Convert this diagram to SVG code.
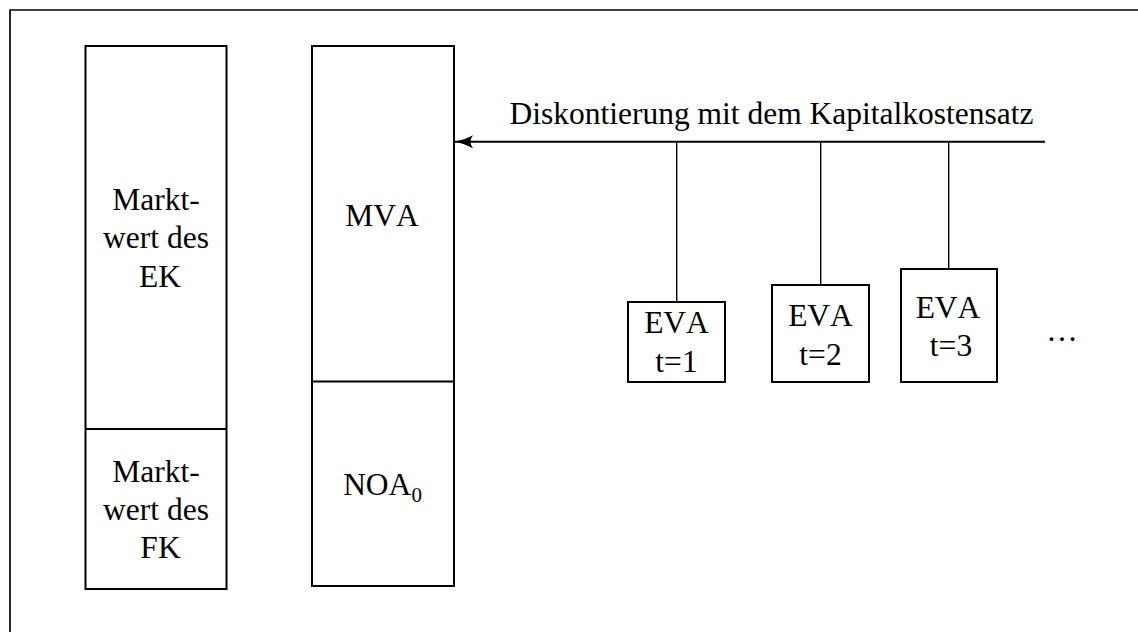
<svg xmlns="http://www.w3.org/2000/svg" width="1138" height="632" viewBox="0 0 1138 632">
<style>
.box{fill:none;stroke:#000;stroke-width:2}
.t{font-family:"Liberation Serif","Times New Roman",serif;font-size:31.5px;fill:#000;text-anchor:middle;font-kerning:none}
.conn{stroke:#000;stroke-width:1.4;fill:none}
.main{stroke:#000;stroke-width:2;fill:none}
</style>
<defs>
<marker id="arr" markerUnits="userSpaceOnUse" markerWidth="22" markerHeight="16" refX="20" refY="8" orient="auto">
<path d="M20,8 Q11,6.5 2,1.5 Q7,8 2,14.5 Q11,9.5 20,8 Z" fill="#000"/>
</marker>
</defs>
<rect width="1138" height="632" fill="#fff"/>
<g id="frame">
<path d="M10,632 V10 H1138" class="main" style="stroke-width:1.7"/>
</g>
<g id="ek-fk">
<rect x="85.5" y="46" width="141" height="543" class="box"/>
<line x1="85.5" y1="429" x2="226.5" y2="429" class="box"/>
<text class="t" x="156" y="210">Markt-</text>
<text class="t" x="156" y="248">wert des</text>
<text class="t" x="160" y="287">EK</text>
<text class="t" x="156" y="482">Markt-</text>
<text class="t" x="156" y="520">wert des</text>
<text class="t" x="160.5" y="558">FK</text>
</g>
<g id="mva-noa">
<rect x="312" y="46" width="142" height="540" class="box"/>
<line x1="312" y1="381.5" x2="454" y2="381.5" class="box"/>
<text class="t" x="382" y="225.5">MVA</text>
<text class="t" x="382.5" y="495">NOA<tspan font-size="21" dy="7">0</tspan></text>
</g>
<g id="connectors">
<line x1="1045" y1="141.7" x2="455" y2="141.7" class="main" marker-end="url(#arr)"/>
<line x1="676.7" y1="141.7" x2="676.7" y2="302" class="conn"/>
<line x1="820.7" y1="141.7" x2="820.7" y2="285" class="conn"/>
<line x1="948.7" y1="141.7" x2="948.7" y2="269" class="conn"/>
</g>
<g id="label-diskont">
<text class="t" x="771.5" y="124.3">Diskontierung mit dem Kapitalkostensatz</text>
</g>
<g id="eva1">
<rect x="628" y="302" width="97" height="80" class="box"/>
<text class="t" x="676.5" y="333">EVA</text>
<text class="t" x="676.5" y="371.7">t=1</text>
</g>
<g id="eva2">
<rect x="772" y="285" width="97" height="97" class="box"/>
<text class="t" x="820.5" y="326">EVA</text>
<text class="t" x="820.5" y="365">t=2</text>
</g>
<g id="eva3">
<rect x="901" y="269" width="96" height="113" class="box"/>
<text class="t" x="948" y="318">EVA</text>
<text class="t" x="951" y="356">t=3</text>
</g>
<g id="dots">
<text class="t" x="1062" y="341">…</text>
</g>
</svg>
